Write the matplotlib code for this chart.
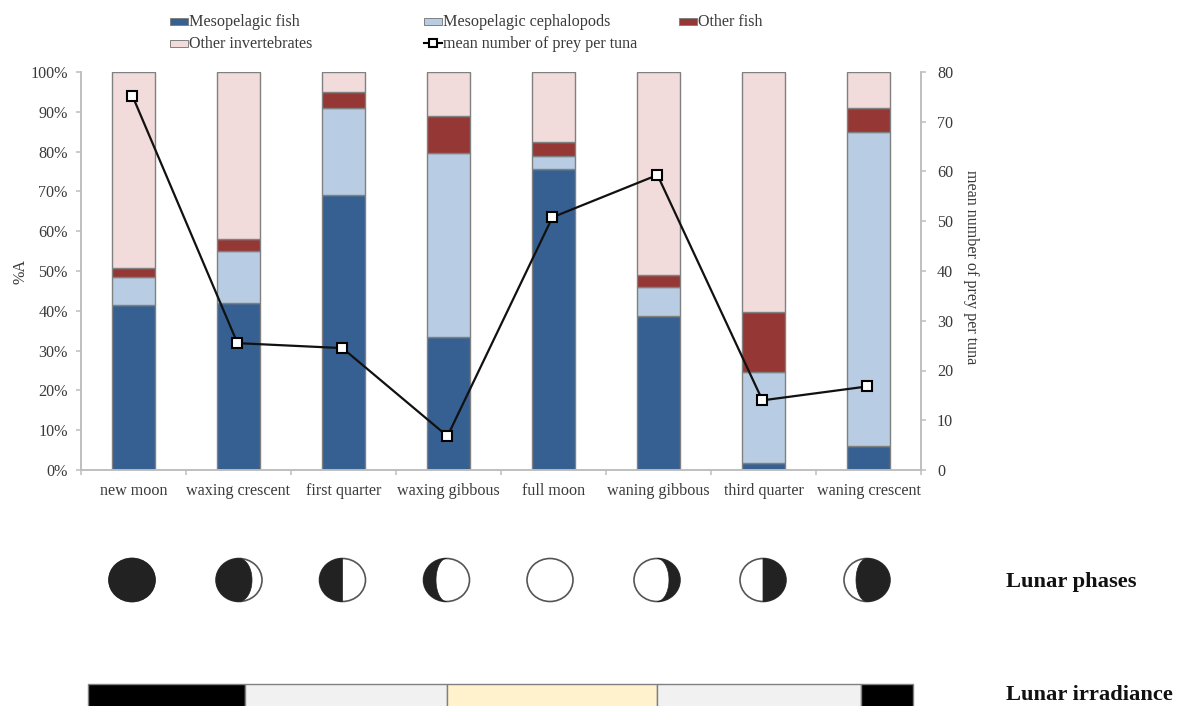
import numpy as np
import matplotlib
matplotlib.use('Agg')
import matplotlib.pyplot as plt
from matplotlib.patches import Rectangle, Polygon, Ellipse

plt.rcParams['font.family'] = ['Liberation Serif', 'DejaVu Serif']

# Values
phases = ['new moon', 'waxing crescent', 'first quarter', 'waxing gibbous',
          'full moon', 'waning gibbous', 'third quarter', 'waning crescent']
meso_fish = [41.5, 42.0, 69.2, 33.5, 75.7, 38.7, 1.7, 6.0]
meso_ceph = [7.0, 13.0, 21.8, 46.2, 3.3, 7.3, 22.8, 79.0]
other_fish = [2.2, 3.0, 4.0, 9.3, 3.3, 3.0, 15.2, 6.0]
other_inv = [49.3, 42.0, 5.0, 11.0, 17.7, 51.0, 60.3, 9.0]
prey_per_tuna = [75.2, 25.5, 24.5, 6.8, 50.8, 59.3, 14.0, 16.8]

# Moon discs: lit fraction is drawn from the terminator offset, in pixels
moon_x = [132, 239, 342.5, 446.5, 550, 657, 763, 867]
moon_dark_side = ['all', 'left', 'left', 'left', 'none', 'right', 'right', 'right']
moon_terminator = [0, 13, 0, -10.5, 0, 12, 0, -11]

# Irradiance bar segments
irr_edges = [88, 245, 447, 657, 861, 913]
irr_colors = ['#000000', '#f1f1f1', '#fff2cc', '#f1f1f1', '#000000']

series = [('Mesopelagic fish', meso_fish, '#366092'),
          ('Mesopelagic cephalopods', meso_ceph, '#b8cce4'),
          ('Other fish', other_fish, '#953735'),
          ('Other invertebrates', other_inv, '#f2dcdb')]

W, H = 1177, 706
FS = 11.6
TXT = '#3a3a3a'
GREY = '#bdbdbd'
fig = plt.figure(figsize=(W / 100, H / 100), dpi=100)
ax = fig.add_axes([81 / W, 1 - 470 / H, 840 / W, 398 / H])

x = np.arange(len(phases))
bottom = np.zeros(len(phases))
for name, vals, col in series:
    ax.bar(x, vals, 0.41, bottom=bottom, color=col, edgecolor='#808080', linewidth=1)
    bottom += np.array(vals)

ax.set_xlim(-0.5, 7.5)
ax.set_ylim(0, 100)
ax.set_yticks(np.arange(0, 101, 10))
ax.set_yticklabels([f'{v}%' for v in range(0, 101, 10)], fontsize=FS, color=TXT)
ax.set_xticks(np.arange(-0.5, 8, 1))
ax.set_xticklabels([])
ax.set_xticks(x, minor=True)
ax.set_xticklabels(phases, minor=True, fontsize=FS, color=TXT, va='baseline')
ax.tick_params(axis='x', which='minor', length=0, pad=18)
ax.tick_params(axis='x', which='major', length=3.5, color=GREY, width=1.1)
ax.tick_params(axis='y', length=3.5, color=GREY, width=1.1, pad=6)
ax.set_ylabel('%A', fontsize=FS, color=TXT)
ax.yaxis.set_label_coords(-0.062, 0.5)
ax.spines['top'].set_visible(False)

ax2 = ax.twinx()
ax2.plot(x - 0.01, prey_per_tuna, color='#111111', lw=1.6, marker='s', ms=6.5,
         mfc='white', mec='black', mew=1.5)
ax2.set_ylim(0, 80)
ax2.set_yticks(np.arange(0, 81, 10))
ax2.tick_params(axis='y', length=3.5, color=GREY, width=1.1, labelsize=FS,
                labelcolor=TXT, pad=8)
ax2.set_ylabel('mean number of prey per tuna', fontsize=FS, color=TXT, rotation=270)
ax2.yaxis.set_label_coords(1.069, 0.51)
ax2.spines['top'].set_visible(False)
for a in (ax, ax2):
    for s in ['left', 'right', 'bottom']:
        a.spines[s].set_color(GREY)
        a.spines[s].set_linewidth(1.1)

# Overlay in pixel coordinates for legend, moons and the irradiance bar
ov = fig.add_axes([0, 0, 1, 1])
ov.set_xlim(0, W)
ov.set_ylim(H, 0)
ov.axis('off')
ov.patch.set_alpha(0)

# Legend
legend_pos = [(170, 21), (424, 21), (679, 21), (170, 43)]
for (name, vals, col), (lx, ly) in zip(series, legend_pos):
    ov.add_patch(Rectangle((lx, ly - 3.5), 18, 7, facecolor=col, edgecolor='#808080', lw=0.7))
    ov.text(lx + 19, ly + 1, name, fontsize=FS, color=TXT, va='center', ha='left')
ov.plot([424, 442], [43, 43], color='black', lw=1.5)
ov.plot([433], [43], marker='s', ms=6, mfc='white', mec='black', mew=1.5)
ov.text(443, 44, 'mean number of prey per tuna', fontsize=FS, color=TXT,
        va='center', ha='left')

# Moon phases
rx, ry = 23, 21.5
cy = 580
dark = '#222222'
t = np.linspace(-np.pi / 2, np.pi / 2, 80)
for cx, side, term in zip(moon_x, moon_dark_side, moon_terminator):
    ov.add_patch(Ellipse((cx, cy), 2 * rx, 2 * ry, facecolor='white',
                         edgecolor='#555555', lw=1.2))
    if side == 'all':
        ov.add_patch(Ellipse((cx, cy), 2 * rx, 2 * ry, facecolor=dark, edgecolor=dark, lw=1))
    elif side in ('left', 'right'):
        sign = -1 if side == 'left' else 1
        limb = np.c_[cx + sign * rx * np.cos(t), cy + ry * np.sin(t)]
        edge = np.c_[cx + term * np.cos(t[::-1]), cy + ry * np.sin(t[::-1])]
        ov.add_patch(Polygon(np.r_[limb, edge], facecolor=dark, edgecolor=dark, lw=0.5))
ov.text(1006, 582, 'Lunar phases', fontsize=16.2, fontweight='bold', color='#111111',
        va='center', ha='left')

# Lunar irradiance bar, runs off the bottom of the image
for left, right, col in zip(irr_edges[:-1], irr_edges[1:], irr_colors):
    ov.add_patch(Rectangle((left, 684), right - left, 40, facecolor=col,
                           edgecolor='#808080', lw=1))
ov.text(1006, 695, 'Lunar irradiance', fontsize=16.2, fontweight='bold', color='#111111',
        va='center', ha='left')

fig.savefig('out.png', dpi=100)
